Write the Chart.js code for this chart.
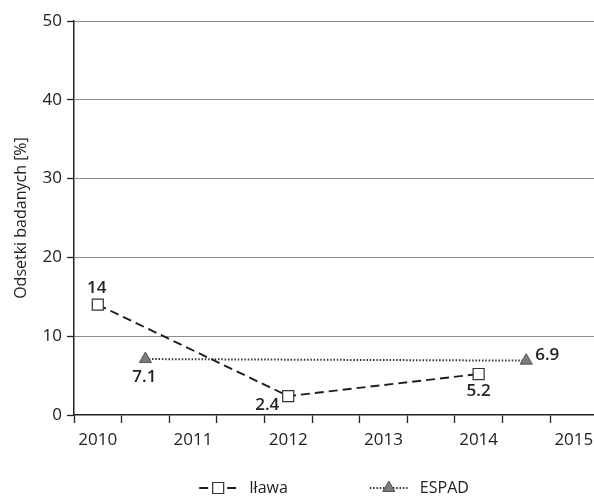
<!DOCTYPE html>
<html>
<head>
<meta charset="utf-8">
<script src="https://cdn.jsdelivr.net/npm/chart.js@4.4.1/dist/chart.umd.min.js"></script>
<style>
  html, body { margin: 0; padding: 0; background: #ffffff; }
  #wrap { width: 594px; height: 503px; position: relative; }
</style>
</head>
<body>
<div id="wrap"><canvas id="c" width="594" height="503"></canvas></div>
<script>
// ---- data ----
const yearLabels = ['2010', '2011', '2012', '2013', '2014', '2015'];
const labelYears = [2010, 2011, 2012, 2013, 2014, 2015];
const boundaryTicks = [2009.75, 2010.25, 2010.75, 2011.25, 2011.75, 2012.25, 2012.75, 2013.25, 2013.75, 2014.25, 2014.75];
const yTicks = [0, 10, 20, 30, 40, 50];

const ilawaName = 'Iława';
const ilawaX = [2010, 2012, 2014];
const ilawaY = [14, 2.4, 5.2];

const espadName = 'ESPAD';
const espadX = [2010.5, 2014.5];
const espadY = [7.1, 6.9];

const yTitle = 'Odsetki badanych [%]';

// label placement (offsets in px from the point)
const ilawaLabelOffsets = [[-1, -17], [-21, 9], [0, 17]];
const espadLabelOffsets = [[-1, 18], [21, -5]];

const FONT = '"Open Sans", "DejaVu Sans", sans-serif';
const TXT = '#222222';

const toPts = (xs, ys) => xs.map((x, i) => ({ x: x, y: ys[i] }));

const valueLabels = {
  id: 'valueLabels',
  afterDatasetsDraw(chart) {
    const ctx = chart.ctx;
    ctx.save();
    ctx.font = '600 17px ' + FONT;
    ctx.fillStyle = TXT;
    ctx.textAlign = 'center';
    ctx.textBaseline = 'middle';
    chart.data.datasets.forEach((ds, di) => {
      const meta = chart.getDatasetMeta(di);
      meta.data.forEach((el, i) => {
        const off = ds.labelOffsets[i];
        ctx.fillText(String(ds.data[i].y), el.x + off[0], el.y + off[1]);
      });
    });
    ctx.restore();
  }
};

const customLegend = {
  id: 'customLegend',
  afterDraw(chart) {
    const ctx = chart.ctx;
    const y = 488;
    const markerW = 38, gap = 12, itemGap = 82;
    ctx.save();
    ctx.font = '16px ' + FONT;
    const items = chart.data.datasets.map(ds => ({ ds: ds, tw: ctx.measureText(ds.label).width }));
    let total = 0;
    items.forEach((it, i) => { total += markerW + gap + it.tw + (i ? itemGap : 0); });
    const ca = chart.chartArea;
    let x = (ca.left + ca.right) / 2 - total / 2;
    items.forEach((it, i) => {
      const ds = it.ds;
      if (i) x += itemGap;
      ctx.save();
      ctx.strokeStyle = ds.borderColor;
      ctx.lineWidth = ds.borderWidth;
      ctx.setLineDash(ds.borderDash || []);
      ctx.lineDashOffset = ds.legendDashOffset || 0;
      ctx.beginPath();
      ctx.moveTo(x, y);
      ctx.lineTo(x + markerW, y);
      ctx.stroke();
      ctx.restore();
      ctx.save();
      ctx.fillStyle = ds.pointBackgroundColor;
      ctx.strokeStyle = ds.pointBorderColor;
      ctx.lineWidth = ds.pointBorderWidth;
      Chart.helpers.drawPoint(ctx, { pointStyle: ds.pointStyle, radius: ds.pointRadius, borderWidth: ds.pointBorderWidth, rotation: 0 }, x + markerW / 2, y);
      ctx.restore();
      ctx.fillStyle = TXT;
      ctx.textAlign = 'left';
      ctx.textBaseline = 'middle';
      ctx.fillText(ds.label, x + markerW + gap, y);
      x += markerW + gap + it.tw;
    });
    ctx.restore();
  }
};

new Chart(document.getElementById('c'), {
  type: 'line',
  data: {
    datasets: [
      {
        label: ilawaName,
        data: toPts(ilawaX, ilawaY),
        borderColor: '#1e1e1e',
        borderWidth: 1.9,
        borderDash: [9, 5],
        legendDashOffset: 0,
        pointStyle: 'rect',
        pointRadius: 7.8,
        pointBackgroundColor: '#ffffff',
        pointBorderColor: '#333333',
        pointBorderWidth: 1.2,
        labelOffsets: ilawaLabelOffsets,
        tension: 0,
        fill: false
      },
      {
        label: espadName,
        data: toPts(espadX, espadY),
        borderColor: '#333333',
        borderWidth: 2,
        borderDash: [1.5, 1.8],
        pointStyle: 'triangle',
        pointRadius: 7,
        pointBackgroundColor: '#7a7a7a',
        pointBorderColor: '#555555',
        pointBorderWidth: 1,
        labelOffsets: espadLabelOffsets,
        tension: 0,
        fill: false
      }
    ]
  },
  options: {
    responsive: false,
    animation: false,
    devicePixelRatio: 1,
    layout: { autoPadding: false, padding: { top: 21, right: 0, bottom: 48, left: 0 } },
    plugins: {
      legend: { display: false },
      tooltip: { enabled: false }
    },
    scales: {
      x: {
        type: 'linear',
        min: 2009.75,
        max: 2015.212,
        offset: false,
        afterBuildTicks: (scale) => {
          const all = boundaryTicks.concat(labelYears).sort((a, b) => a - b);
          scale.ticks = all.map(v => ({ value: v }));
        },
        afterFit: (scale) => { scale.height = 40; scale.paddingLeft = 0; scale.paddingRight = 0; },
        grid: {
          drawOnChartArea: false,
          drawTicks: true,
          tickLength: 8,
          tickWidth: 1.3,
          tickColor: (c) => (c.tick && boundaryTicks.includes(c.tick.value)) ? '#222222' : 'rgba(0,0,0,0)'
        },
        border: { display: true, color: '#222222', width: 1.5 },
        ticks: {
          autoSkip: false,
          maxRotation: 0,
          minRotation: 0,
          padding: 7,
          color: TXT,
          font: { family: FONT, size: 17 },
          callback: (v) => {
            const idx = labelYears.indexOf(v);
            return idx >= 0 ? yearLabels[idx] : '';
          }
        }
      },
      y: {
        type: 'linear',
        min: 0,
        max: 50,
        afterBuildTicks: (scale) => { scale.ticks = yTicks.map(v => ({ value: v })); },
        afterFit: (scale) => { scale.width = 74; },
        grid: {
          color: (c) => (c.tick && c.tick.value === 0) ? 'rgba(0,0,0,0)' : '#8c8c8c',
          lineWidth: 1,
          drawTicks: true,
          tickLength: 7,
          tickColor: '#222222',
          tickWidth: 1.3
        },
        border: { display: true, color: '#222222', width: 1.5 },
        ticks: {
          padding: 5,
          color: TXT,
          font: { family: FONT, size: 17 }
        },
        title: {
          display: true,
          text: yTitle,
          color: TXT,
          font: { family: FONT, size: 16 },
          padding: { top: 12, bottom: 0 }
        }
      }
    }
  },
  plugins: [valueLabels, customLegend]
});
</script>
</body>
</html>
